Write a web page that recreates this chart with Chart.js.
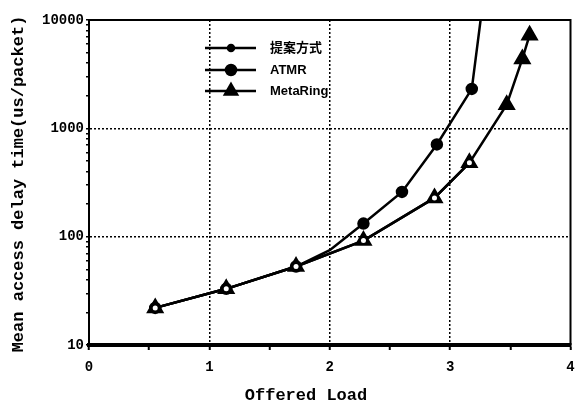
<!DOCTYPE html>
<html>
<head>
<meta charset="utf-8">
<script src="https://cdn.jsdelivr.net/npm/chart.js@4.4.0/dist/chart.umd.min.js"></script>
<style>
  html, body { margin: 0; padding: 0; background: #fff; }
  #delayChart { display: block; }
</style>
</head>
<body>
<canvas id="delayChart" width="581" height="407"></canvas>
<script>
// datos
const seriesNames = ['提案方式', 'ATMR', 'MetaRing'];
const loadMeta = [0.55, 1.14, 1.72, 2.28, 2.87, 3.16, 3.47, 3.60, 3.66];
const delayMeta = [22, 33, 53, 92, 228, 480, 1650, 4370, 7240];
const loadProp = [0.55, 1.14, 1.72, 2.28, 2.87, 3.16];
const delayProp = [22, 33, 53, 92, 228, 480];
const loadAtmr = [0.55, 1.14, 1.72, 2.0, 2.28, 2.60, 2.89, 3.18, 3.27];
const delayAtmr = [22, 33, 53, 75, 132, 259, 710, 2310, 14000];
const xTicks = [0, 1, 2, 3, 4];
const yTicks = [10, 100, 1000, 10000];

const pts = (xs, ys) => xs.map((x, i) => ({ x: x, y: ys[i] }));
const monoFont = "'Liberation Mono', 'DejaVu Sans Mono', monospace";

// leyenda y marco dibujados a mano
const framePlugin = {
  id: 'frame',
  afterDraw(chart) {
    const { ctx, chartArea: a } = chart;
    ctx.save();
    ctx.strokeStyle = '#000';
    ctx.lineWidth = 2;
    ctx.beginPath();
    ctx.moveTo(a.left, a.top);
    ctx.lineTo(a.right, a.top);
    ctx.lineTo(a.right, a.bottom);
    ctx.stroke();

    // leyenda
    const rows = [
      { y: 48, style: 'circle', r: 3 },
      { y: 70, style: 'circle', r: 5 },
      { y: 91, style: 'triangle', r: 7 }
    ];
    rows.forEach((row, i) => {
      ctx.lineWidth = 2.5;
      ctx.beginPath();
      ctx.moveTo(205, row.y);
      ctx.lineTo(256, row.y);
      ctx.stroke();
      ctx.fillStyle = '#000';
      Chart.helpers.drawPoint(ctx, { pointStyle: row.style, radius: row.r, rotation: 0, borderWidth: 1 }, 231, row.y);
      ctx.fill();
      ctx.font = "bold 13px 'Liberation Sans', 'Noto Sans CJK JP', sans-serif";
      ctx.textBaseline = 'middle';
      ctx.textAlign = 'left';
      ctx.fillText(seriesNames[i], 270, row.y);
    });

    // titulos de ejes
    ctx.font = 'bold 17px ' + monoFont;
    ctx.textAlign = 'center';
    ctx.textBaseline = 'middle';
    ctx.fillText('Offered Load', 306, 396);
    ctx.translate(19, 184);
    ctx.rotate(-Math.PI / 2);
    ctx.fillText('Mean access delay time(us/packet)', 0, 0);
    ctx.restore();
  }
};

new Chart(document.getElementById('delayChart').getContext('2d'), {
  type: 'line',
  data: {
    datasets: [
      {
        label: seriesNames[0],
        data: pts(loadProp, delayProp),
        borderColor: '#000',
        borderWidth: 2.5,
        pointStyle: 'circle',
        pointRadius: 2.5,
        pointBackgroundColor: '#fff',
        pointBorderColor: '#fff',
        pointBorderWidth: 0,
        order: 0
      },
      {
        label: seriesNames[2],
        data: pts(loadMeta, delayMeta),
        borderColor: '#000',
        borderWidth: 2.5,
        pointStyle: 'triangle',
        pointRadius: 8,
        pointBackgroundColor: '#000',
        pointBorderColor: '#000',
        order: 1
      },
      {
        label: seriesNames[1],
        data: pts(loadAtmr, delayAtmr),
        borderColor: '#000',
        borderWidth: 2.5,
        pointStyle: 'circle',
        pointRadius: loadAtmr.map((v, i) => i === loadAtmr.length - 1 || i === 3 ? 0 : 5),
        pointBackgroundColor: '#000',
        pointBorderColor: '#000',
        order: 2
      }
    ]
  },
  options: {
    responsive: false,
    animation: false,
    layout: { padding: { top: 20, right: 6, left: 0, bottom: 0 } },
    plugins: { legend: { display: false }, tooltip: { enabled: false } },
    scales: {
      x: {
        type: 'linear',
        min: 0, max: 4,
        afterBuildTicks: (s) => { s.ticks = [0, 0.5, 1, 1.5, 2, 2.5, 3, 3.5, 4].map(v => ({ value: v })); },
        afterFit: (s) => { s.height = 62; s.paddingRight = 0; },
        grid: {
          color: (c) => (c.tick && xTicks.includes(c.tick.value) && c.tick.value > 0 && c.tick.value < 4) ? '#000' : 'rgba(0,0,0,0)',
          lineWidth: 1.5,
          tickColor: '#000',
          tickLength: 5,
          tickWidth: 2
        },
        border: { color: '#000', width: 4, dash: [2, 2] },
        ticks: {
          color: '#000',
          padding: 9,
          maxRotation: 0,
          autoSkip: false,
          font: { family: monoFont, size: 14, weight: 'bold' },
          callback: (v) => xTicks.includes(v) ? String(v) : ''
        }
      },
      y: {
        type: 'logarithmic',
        min: 10, max: 10000,
        afterBuildTicks: (s) => {
          const t = [];
          for (let d = 10; d < 10000; d *= 10) {
            for (let k = 1; k < 10; k++) t.push({ value: k * d, major: k === 1 });
          }
          t.push({ value: 10000, major: true });
          s.ticks = t;
        },
        afterFit: (s) => { s.width = 89; },
        grid: {
          color: (c) => (c.tick && (c.tick.value === 100 || c.tick.value === 1000)) ? '#000' : 'rgba(0,0,0,0)',
          lineWidth: 1.5,
          tickColor: '#000',
          tickLength: (c) => (c.tick && yTicks.includes(c.tick.value)) ? 5 : 3,
          tickWidth: 1.5
        },
        border: { color: '#000', width: 2, dash: [2, 2] },
        ticks: {
          color: '#000',
          padding: 2,
          autoSkip: false,
          font: { family: monoFont, size: 14, weight: 'bold' },
          callback: (v) => yTicks.includes(v) ? String(v) : ''
        }
      }
    }
  },
  plugins: [framePlugin]
});
</script>
</body>
</html>
